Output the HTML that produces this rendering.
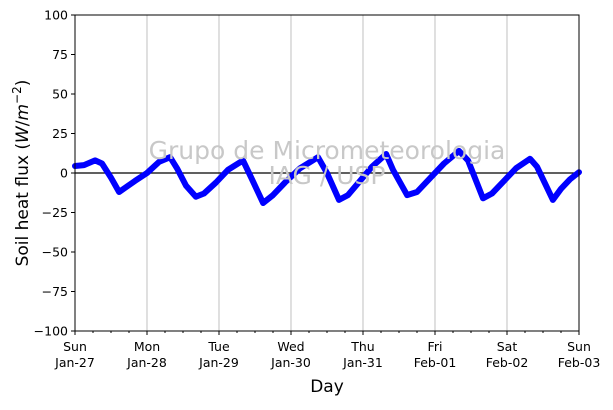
<!DOCTYPE html>
<html><head><meta charset="utf-8"><style>
body{margin:0;background:#fff;}
svg{font-family:"DejaVu Sans","Liberation Sans",sans-serif;}
</style></head><body>
<svg id="chart" width="613" height="405">
<g id="grid"></g><g id="series"></g><g id="axes"></g>
<text x="327" y="159" font-size="25" fill="#c8c8c8" text-anchor="middle">Grupo de Micrometeorologia</text>
<text x="327" y="184" font-size="25" fill="#c8c8c8" text-anchor="middle">IAG / USP</text>
<text x="327" y="392" font-size="17" text-anchor="middle">Day</text>
<text transform="translate(28,173) rotate(-90)" font-size="17" text-anchor="middle">Soil heat flux (<tspan font-style="italic">W</tspan>/<tspan font-style="italic">m</tspan><tspan font-size="12" dy="-7">−2</tspan><tspan dy="7">)</tspan></text>
</svg>
<script>
const dayLabels=["Sun","Mon","Tue","Wed","Thu","Fri","Sat","Sun"];
const dateLabels=["Jan-27","Jan-28","Jan-29","Jan-30","Jan-31","Feb-01","Feb-02","Feb-03"];
const yTicks=[-100,-75,-50,-25,0,25,50,75,100];
const hours=[0,3,6.7,9,12,14.7,17,20,24,28,31.7,34,37,40.3,43,47,51,56,59,62.7,66,70,75,81,84,88,91,95,99,103.7,106,110.7,114,118,123,128,131,136,139,143,147,151.7,154,159.3,162,165,168];
const flux=[4.4,5,8,6,-3,-12,-9,-5,0,7,10,3,-8,-15,-13,-6,2,8,-4,-19,-14,-6,3,10,0,-17,-14,-5,4,12,2,-14,-12,-4,6,14,8,-16,-13,-5,3,9,4,-17,-10,-4,0.5];
const X0=75,X1=579,Y0=331,Y1=15;
const xs=h=>X0+(X1-X0)*h/168;
const ys=v=>Y0+(Y1-Y0)*(v+100)/200;
const NS="http://www.w3.org/2000/svg";
function mk(parent,tag,attrs){const e=document.createElementNS(NS,tag);for(const k in attrs)e.setAttribute(k,attrs[k]);document.getElementById(parent).appendChild(e);return e;}
for(let d=1;d<7;d++){const l=mk("grid","line",{x1:xs(d*24),x2:xs(d*24),y1:Y1,y2:Y0,stroke:"#b0b0b0","stroke-width":0.8});

}
const zl=mk("grid","line",{x1:X0,x2:X1,y1:ys(0),y2:ys(0),stroke:"#000","stroke-width":1.2});


const pts=hours.map((h,i)=>xs(h).toFixed(1)+","+ys(flux[i]).toFixed(1)).join(" ");
const pl=mk("series","polyline",{points:pts,fill:"none",stroke:"#0000ff","stroke-width":6,"stroke-linejoin":"round","stroke-linecap":"round"});


const fr=mk("axes","rect",{x:X0,y:Y1,width:X1-X0,height:Y0-Y1,fill:"none",stroke:"#000","stroke-width":1});


yTicks.forEach(v=>{mk("axes","line",{x1:X0-4,x2:X0,y1:ys(v),y2:ys(v),stroke:"#000"});
const t=mk("axes","text",{x:X0-7,y:ys(v)+4.5,"font-size":12.5,"text-anchor":"end"});t.textContent=v===0?"0":(v<0?"−"+(-v):v);

});
for(let h=0;h<=168;h+=6){const major=h%24===0;mk("axes","line",{x1:xs(h),x2:xs(h),y1:Y0,y2:Y0+(major?4:2),stroke:"#000"});}
dayLabels.forEach((d,i)=>{const t=mk("axes","text",{x:xs(i*24),y:Y0+20,"font-size":12.5,"text-anchor":"middle"});t.textContent=d;


const t2=mk("axes","text",{x:xs(i*24),y:Y0+36,"font-size":12.5,"text-anchor":"middle"});t2.textContent=dateLabels[i];

});
</script>
</body></html>
